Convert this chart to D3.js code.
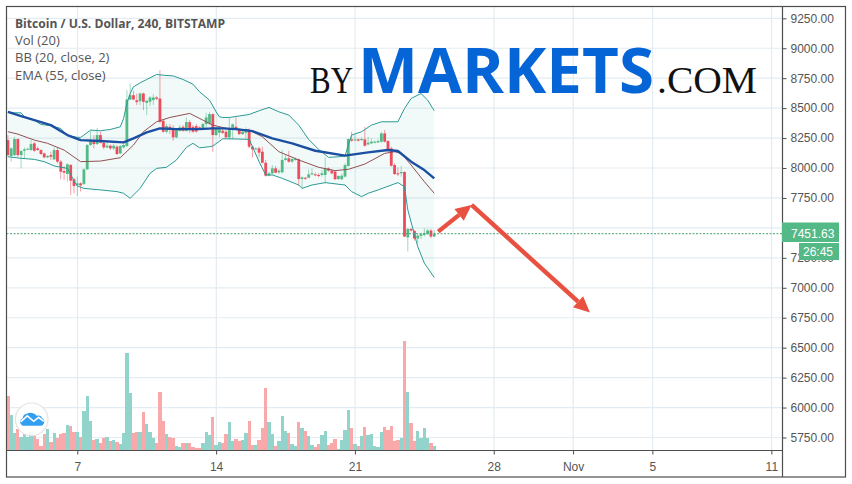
<!DOCTYPE html>
<html>
<head>
<meta charset="utf-8">
<script src="https://cdnjs.cloudflare.com/ajax/libs/d3/7.8.5/d3.min.js"></script>
<style>
html,body{margin:0;padding:0;background:#fff;overflow:hidden}
svg{display:block}
text{font-family:"Liberation Sans",Arial,sans-serif}
</style>
</head>
<body>
<div id="chart"></div>
<script>
const chartTitle = "Bitcoin / U.S. Dollar, 240, BITSTAMP";
const legendLines = ["Vol (20)", "BB (20, close, 2)", "EMA (55, close)"];
const priceTicks = [9250,9000,8750,8500,8250,8000,7750,7500,7250,7000,6750,6500,6250,6000,5750];
const timeTickBars = [21,63,105,147,171,195,231];
const timeTickLabels = ["7","14","21","28","Nov","5","11"];
const lastPrice = 7451.63;
const countdown = "26:45";

const open = [8233,8100,8108,8242,8108,8144,8156,8150,8206,8164,8150,8122,8089,8108,8072,8150,8053,7975,7950,8025,7906,7858,7872,7867,7989,8192,8233,8200,8275,8211,8172,8186,8164,8178,8122,8172,8183,8572,8608,8565,8558,8622,8544,8553,8567,8589,8580,8394,8303,8344,8331,8256,8311,8344,8311,8383,8344,8350,8339,8328,8367,8372,8450,8275,8294,8311,8303,8256,8336,8344,8322,8283,8294,8317,8178,8158,8164,8136,8044,7936,7956,7997,7964,7964,8067,8081,8053,8067,8072,7908,7919,7919,7947,7947,7942,7942,7942,7997,7978,7970,7908,7906,7928,8017,8239,8233,8239,8233,8239,8197,8206,8211,8214,8220,8289,8225,8164,8025,7956,7956,7967,7420,7492,7475,7411,7433,7442,7450,7478,7428];
const high = [8275,8172,8261,8247,8150,8172,8169,8233,8219,8178,8156,8128,8108,8136,8172,8172,8067,8017,8039,8033,7914,7928,7880,7997,8200,8311,8275,8336,8303,8233,8219,8195,8205,8192,8192,8205,8650,8705,8644,8622,8630,8630,8572,8600,8617,8600,8817,8405,8367,8367,8358,8331,8358,8358,8422,8400,8358,8367,8350,8378,8461,8469,8456,8344,8344,8331,8317,8422,8372,8422,8331,8317,8339,8331,8186,8172,8178,8178,8067,7967,8025,8017,7990,8150,8108,8144,8085,8089,8081,7930,7925,7989,7997,7961,7956,7983,8089,8005,7989,7980,7940,7956,8039,8247,8303,8275,8247,8255,8344,8261,8247,8230,8240,8303,8317,8233,8178,8039,8005,8017,7972,7497,7497,7483,7450,7461,7497,7491,7491,7483];
const low = [8094,8053,8100,8094,7997,8081,8150,8144,8136,8144,8108,8081,8081,8067,8067,8039,7906,7900,7886,7775,7789,7767,7803,7858,7983,8183,8164,8192,8206,8156,8164,8150,8150,8108,8114,8164,8178,8567,8567,8525,8525,8483,8442,8517,8525,8567,8372,8294,8289,8283,8228,8247,8303,8303,8303,8294,8294,8294,8317,8322,8330,8358,8136,8267,8256,8283,8247,8233,8239,8317,8275,8275,8247,8164,8089,8150,8089,8039,7928,7928,7942,7956,7950,7956,8061,8044,8044,8061,7850,7830,7900,7914,7940,7933,7922,7928,7872,7970,7947,7900,7900,7900,7922,8011,8220,8225,8222,8228,8178,8190,8200,8205,8208,8211,8214,8150,8011,7942,7933,7928,7422,7303,7461,7394,7372,7406,7428,7442,7414,7422];
const close = [8108,8164,8242,8108,8142,8156,8161,8200,8144,8150,8117,8089,8100,8094,8150,8053,7969,7961,8031,7894,7850,7872,7855,7989,8192,8225,8200,8275,8211,8172,8186,8164,8186,8117,8183,8192,8572,8608,8572,8550,8622,8553,8561,8589,8589,8578,8386,8303,8350,8317,8256,8322,8339,8311,8383,8317,8303,8305,8325,8367,8422,8450,8275,8330,8322,8294,8256,8330,8364,8322,8283,8303,8325,8178,8156,8164,8128,8044,7936,7956,7997,7961,7978,8067,8081,8053,8075,8075,7908,7922,7914,7947,7956,7942,7933,7956,7997,7978,7956,7906,7933,7936,8025,8242,8228,8239,8228,8242,8186,8211,8220,8220,8225,8289,8220,8158,8019,7950,7947,7967,7428,7492,7478,7411,7436,7447,7456,7478,7428,7451.63];
const volume = [163,106,53,64,41,51,41,56,43,35,13,49,64,25,52,37,49,52,76,73,55,55,40,118,163,88,31,34,22,37,40,28,31,25,19,52,292,172,52,55,55,115,79,55,37,22,175,88,49,40,37,13,10,22,22,22,10,7,7,22,55,46,100,16,25,22,49,85,30,36,30,33,54,90,18,18,33,69,189,87,51,15,30,105,60,54,21,15,87,69,60,45,18,12,21,48,60,18,24,36,6,33,63,123,69,21,15,45,72,48,51,15,12,57,72,63,75,30,33,39,330,177,84,30,60,39,69,39,24,15];

const upperBars = [0,2,4,5,8,10,13,16,18,21,22,23,25,28,31,34,35,36,37,38,40,42,45,47,50,53,56,58,61,63,64,65,67,73,76,79,82,85,88,91,94,97,100,102,103,104,107,110,113,118,120,122,125,127,129];
const upperBand = [8469,8461,8461,8428,8400,8364,8353,8330,8272,8256,8256,8275,8317,8311,8322,8344,8414,8539,8622,8678,8711,8739,8781,8775,8769,8739,8700,8636,8567,8469,8428,8422,8422,8447,8478,8506,8469,8442,8358,8239,8156,8089,8094,8100,8192,8275,8303,8358,8386,8386,8497,8581,8622,8567,8478];
const lowerBars = [0,4,8,11,14,18,20,21,23,28,33,35,37,40,43,45,48,51,54,56,58,61,62,65,67,73,74,76,78,80,83,88,89,92,96,102,104,107,109,112,118,120,121,124,126,129];
const lowerBand = [8094,8081,8072,8053,8017,7997,7894,7850,7830,7817,7803,7789,7747,7830,7955,7997,8006,8067,8172,8206,8169,8178,8183,8244,8244,8239,8178,8053,7942,7942,7914,7858,7830,7858,7878,7858,7803,7761,7789,7817,7878,7844,7650,7344,7206,7086];
const basisBars = [0,3,8,12,17,22,28,34,38,41,45,49,55,59,62,67,73,77,82,88,94,99,103,108,114,117,119,122,126,129];
const basisLine = [8303,8283,8233,8206,8150,8053,8058,8086,8192,8303,8386,8422,8456,8400,8358,8325,8317,8261,8136,8067,8006,7978,7989,8033,8122,8136,8122,8025,7886,7789];
const emaBars = [0,4,8,13,18,22,28,35,38,42,46,51,58,62,65,69,74,80,86,93,102,109,115,118,122,126,129];
const emaLine = [8469,8433,8400,8358,8275,8233,8225,8214,8247,8297,8331,8325,8325,8331,8331,8325,8308,8247,8206,8144,8103,8131,8150,8142,8053,7983,7914];

const arrowBars = [130.2,140.3,176.1];
const arrowPrices = [7469,7692,6794];

const W = 852, H = 484;
const frame = {left:6.5, top:6.5, right:845.5, bottom:477};
const plotRight = 782.5, plotBottom = 450.5;
const x = d3.scaleLinear().domain([0,1]).range([7.9,11.205]);
const y = d3.scaleLinear().domain([5750,9250]).range([437.5,18.3]);
const vol = d3.scaleLinear().domain([0,330]).range([plotBottom,340.5]);
const GREEN="#53b987", RED="#eb4d5c", GRID="#e3ecf2", TXT="#555", LINE="#4d4d4d";

const svg = d3.select("#chart").append("svg").attr("width",W).attr("height",H);
svg.append("rect").attr("width",W).attr("height",H).attr("fill","#fff");
const defs = svg.append("defs");
defs.append("clipPath").attr("id","plot").append("rect")
  .attr("x",frame.left).attr("y",frame.top).attr("width",plotRight-frame.left).attr("height",plotBottom-frame.top);

// grid
const grid = svg.append("g").attr("stroke",GRID).attr("stroke-width",1.2);
grid.selectAll("line.h").data(priceTicks).join("line").attr("x1",frame.left).attr("x2",plotRight)
  .attr("y1",d=>y(d)).attr("y2",d=>y(d));
grid.selectAll("line.v").data(timeTickBars).join("line").attr("y1",frame.top).attr("y2",plotBottom)
  .attr("x1",d=>x(d)+0.2).attr("x2",d=>x(d)+0.2);

const plot = svg.append("g").attr("clip-path","url(#plot)");
const bw = x(1)-x(0);

// volume
plot.append("g").attr("shape-rendering","crispEdges").selectAll("rect").data(volume).join("rect")
  .attr("x",(d,i)=>x(i)-bw/2).attr("width",bw)
  .attr("y",d=>vol(d)).attr("height",d=>plotBottom-vol(d))
  .attr("fill",(d,i)=>close[i]>=open[i]?"#92d3cc":"#f9a9a9");

// bollinger fill
const pts = (bars,vals)=>bars.map((b,i)=>[x(b),y(vals[i])]);
const lineGen = d3.line();
const upperPts = pts(upperBars,upperBand), lowerPts = pts(lowerBars,lowerBand);
plot.append("path").attr("d",lineGen(upperPts.concat(lowerPts.slice().reverse()))+"Z")
  .attr("fill","#26a69a").attr("fill-opacity",0.06);

// candles
const candle = plot.append("g");
candle.selectAll("line").data(open).join("line")
  .attr("x1",(d,i)=>x(i)).attr("x2",(d,i)=>x(i))
  .attr("y1",(d,i)=>y(high[i])).attr("y2",(d,i)=>y(low[i]))
  .attr("stroke",(d,i)=>close[i]>=open[i]?GREEN:RED).attr("stroke-width",1).attr("stroke-opacity",0.55);
candle.selectAll("rect").data(open).join("rect")
  .attr("x",(d,i)=>x(i)-1.4).attr("width",2.8)
  .attr("y",(d,i)=>y(Math.max(open[i],close[i])))
  .attr("height",(d,i)=>Math.max(1,Math.abs(y(open[i])-y(close[i]))))
  .attr("fill",(d,i)=>close[i]>=open[i]?GREEN:RED);

// indicators
const addLine=(p,c,w)=>plot.append("path").attr("d",lineGen(p)).attr("fill","none").attr("stroke",c).attr("stroke-width",w).attr("stroke-linejoin","round");
addLine(upperPts,"#2b9a94",1);
addLine(lowerPts,"#2b9a94",1);
addLine(pts(basisBars,basisLine),"#8f4f52",1);
addLine(pts(emaBars,emaLine),"#1c4fa1",2.4);

// price line
svg.append("line").attr("x1",frame.left).attr("x2",plotRight).attr("y1",y(lastPrice)).attr("y2",y(lastPrice))
  .attr("stroke","#4c9f76").attr("stroke-width",1).attr("stroke-dasharray","2 1.5");

// frame
svg.append("rect").attr("x",frame.left).attr("y",frame.top).attr("width",frame.right-frame.left).attr("height",frame.bottom-frame.top)
  .attr("fill","none").attr("stroke",LINE).attr("stroke-width",1.2);

// axes
const yAxis = d3.axisRight(y).tickValues(priceTicks).tickFormat(d3.format(".2f")).tickSize(4).tickPadding(4);
const ga = svg.append("g").attr("transform",`translate(${plotRight},0)`).call(yAxis);
const xAxis = d3.axisBottom(x).tickValues(timeTickBars).tickFormat((d,i)=>timeTickLabels[i]).tickSize(4).tickPadding(8);
const gb = svg.append("g").attr("transform",`translate(0,${plotBottom})`).call(xAxis);
[ga,gb].forEach(g=>{
  g.selectAll(".domain").attr("stroke",LINE).attr("stroke-width",1.2);
  g.selectAll(".tick line").attr("stroke",LINE);
  g.selectAll("text").attr("fill",TXT).attr("font-size",12).attr("font-family",'"Liberation Sans",Arial,sans-serif');
});
ga.select(".domain").attr("d",`M0,${frame.top}V${frame.bottom}`);
gb.select(".domain").attr("d",`M${frame.left},0H${plotRight}`);

// price badges
const badge=(bx,by,bw2,bh,t,tx,ty)=>{
  svg.append("rect").attr("x",bx).attr("y",by).attr("width",bw2).attr("height",bh).attr("fill",GREEN);
  svg.append("text").attr("x",tx).attr("y",ty).attr("fill","#fff").attr("font-size",12).text(t);
};
badge(782,222.5,57,19.5,d3.format(".2f")(lastPrice),791,237.5);
badge(799,243,40,17,countdown,803,255.7);

// arrows
const arrowColor="#e8503f";
const arrowPts=arrowBars.map((b,i)=>[x(b),y(arrowPrices[i])]);
const arrowSeg=(a,b)=>{
  const ang=Math.atan2(b[1]-a[1],b[0]-a[0]);
  const L=16,Wd=7.5;
  const bx=b[0]-L*Math.cos(ang), by=b[1]-L*Math.sin(ang);
  const nx=-Math.sin(ang), ny=Math.cos(ang);
  svg.append("line").attr("x1",a[0]).attr("y1",a[1]).attr("x2",bx).attr("y2",by)
    .attr("stroke",arrowColor).attr("stroke-width",4.4);
  svg.append("path").attr("d",lineGen([b,[bx+nx*Wd,by+ny*Wd],[bx-nx*Wd,by-ny*Wd]])+"Z").attr("fill",arrowColor);
};
arrowSeg(arrowPts[0],arrowPts[1]);
arrowSeg(arrowPts[1],arrowPts[2]);

// legend text
svg.append("text").attr("x",15).attr("y",27.5).attr("fill",TXT).attr("font-size",13).attr("font-weight",700)
  .style("font-family",'"Open Sans",sans-serif').attr("textLength",210).attr("lengthAdjust","spacingAndGlyphs").text(chartTitle);
legendLines.forEach((t,i)=>svg.append("text").attr("x",15).attr("y",45+i*17.3).attr("fill",TXT).attr("font-size",13)
  .style("font-family",'"Open Sans",sans-serif').text(t));

// brand
const brand=svg.append("g");
brand.append("text").attr("x",310).attr("y",93).attr("font-size",38).attr("fill","#111")
  .style("font-family",'"Liberation Serif",serif').attr("textLength",43).attr("lengthAdjust","spacingAndGlyphs").text("BY");
brand.append("text").attr("x",358).attr("y",93).attr("font-size",63).attr("font-weight",700).attr("fill","#0665d6")
  .style("font-family",'"Open Sans",sans-serif').attr("textLength",296).attr("lengthAdjust","spacingAndGlyphs").text("MARKETS");
brand.append("text").attr("x",657).attr("y",93).attr("font-size",38).attr("fill","#111")
  .style("font-family",'"Liberation Serif",serif').attr("textLength",100).attr("lengthAdjust","spacingAndGlyphs").text(".COM");

// corner badge
const corner=svg.append("g").attr("transform","translate(31.7,419.3)");
corner.append("circle").attr("r",16.3).attr("fill","#fff").attr("fill-opacity",0.85).attr("stroke","#e4e4e4").attr("stroke-width",1.2);
corner.append("path").attr("d","M-9,6.5H9A4,4 0 0 0 10.5,-1A4,4 0 0 0 5,-3.5A7,6 0 0 0 -5,-5.5A5,5 0 0 0 -9,-1A4,4 0 0 0 -9,6.5Z").attr("fill","#339ff0");
corner.append("path").attr("d","M-11,2.5L-4.5,-3.5L2,2L7,-2L12,2").attr("fill","none").attr("stroke","#fff").attr("stroke-width",1.6);
</script>
</body>
</html>
